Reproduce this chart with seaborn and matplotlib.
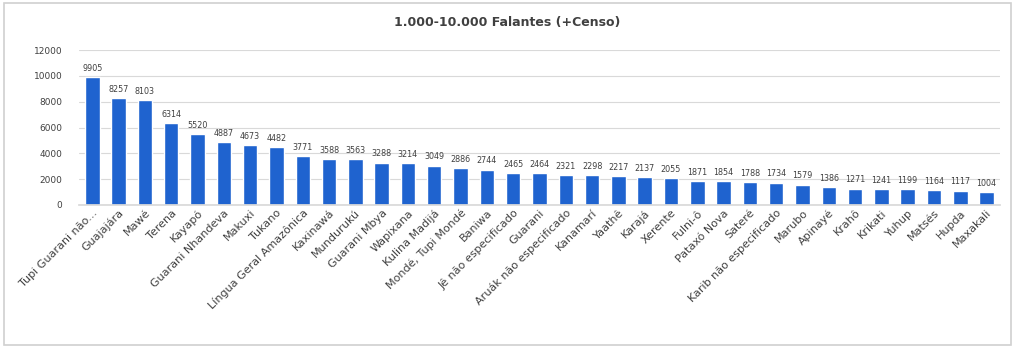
import matplotlib
matplotlib.use("Agg")
import matplotlib.pyplot as plt
import seaborn as sns
import pandas as pd
from matplotlib.patches import Rectangle

languages = [
    "Tupi Guarani não...", "Guajajára", "Mawé", "Terena", "Kayapó",
    "Guarani Nhandeva", "Makuxi", "Tukano", "Língua Geral Amazônica",
    "Kaxinawá", "Mundurukú", "Guarani Mbya", "Wapixana", "Kulina Madijá",
    "Mondé, Tupi Mondé", "Baniwa", "Jê não especificado", "Guarani",
    "Aruák não especificado", "Kanamarí", "Yaathê", "Karajá", "Xerente",
    "Fulni-ô", "Pataxó Nova", "Sateré", "Karib não especificado", "Marubo",
    "Apinayé", "Krahô", "Krikati", "Yuhup", "Matsés", "Hupda", "Maxakali",
]
speakers = [
    9905, 8257, 8103, 6314, 5520, 4887, 4673, 4482, 3771, 3588,
    3563, 3288, 3214, 3049, 2886, 2744, 2465, 2464, 2321, 2298,
    2217, 2137, 2055, 1871, 1854, 1788, 1734, 1579, 1386, 1271,
    1241, 1199, 1164, 1117, 1004,
]
y_ticks = [0, 2000, 4000, 6000, 8000, 10000, 12000]
title = "1.000-10.000 Falantes (+Censo)"

df = pd.DataFrame({"lang": languages, "n": speakers})

sns.set_theme(style="white")
plt.rcParams['font.family'] = ['DejaVu Sans']

fig = plt.figure(figsize=(10.15, 3.48), dpi=100)
fig.patches.append(Rectangle((0.004, 0.008), 0.992, 0.984, transform=fig.transFigure,
                             fill=False, edgecolor="#d0d0d0", linewidth=1.2))
ax = fig.add_axes([0.078, 0.411, 0.907, 0.445])

sns.barplot(data=df, x="lang", y="n", order=languages, color="#1f63cf",
            saturation=1, width=0.55, ax=ax)

ax.set_ylim(0, 12000)
ax.set_yticks(y_ticks)
ax.set_yticklabels([str(t) for t in y_ticks], fontsize=6.5, color="#404040")
ax.yaxis.grid(True, color="#d9d9d9", linewidth=0.8)
ax.set_axisbelow(True)
for s in ["top", "right", "left"]:
    ax.spines[s].set_visible(False)
ax.spines["bottom"].set_color("#d9d9d9")
ax.tick_params(axis="y", length=0, pad=12)
ax.tick_params(axis="x", length=0, pad=2)
ax.set_xlim(-0.5, len(languages) - 0.5)
ax.set_xlabel("")
ax.set_ylabel("")
plt.setp(ax.get_xticklabels(), rotation=45, ha="right", rotation_mode="anchor",
         fontsize=8, color="#404040")

ax.bar_label(ax.containers[0], labels=[str(v) for v in speakers], fontsize=5.8,
             color="#404040", padding=3)

fig.text(0.5, 0.935, title, ha="center", va="center", fontsize=9,
         fontweight="bold", color="#404040")

fig.savefig("out.png", dpi=100)
